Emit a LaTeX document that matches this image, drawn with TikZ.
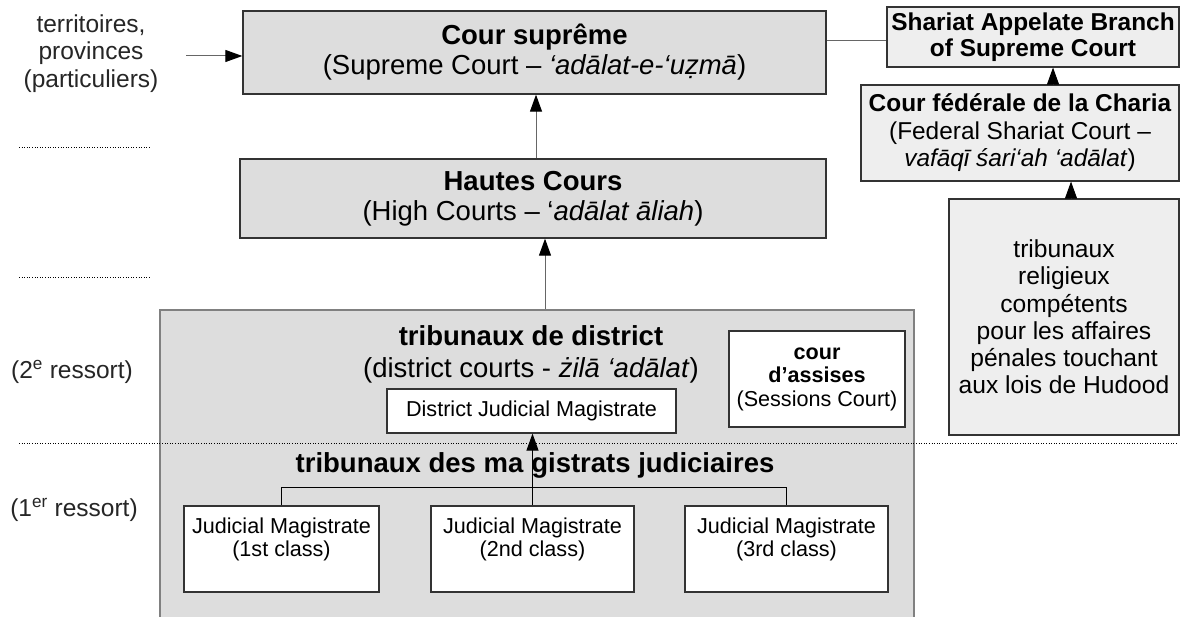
\documentclass[tikz,border=0pt]{standalone}
\usepackage{fontspec}
\setmainfont{Liberation Sans}
\usetikzlibrary{arrows.meta}
\definecolor{boxgray}{HTML}{DDDDDD}
\definecolor{lightbox}{HTML}{EEEEEE}
\definecolor{edge}{HTML}{333333}
\definecolor{lineg}{HTML}{666666}
\definecolor{contedge}{HTML}{808080}
\tikzset{
  big/.style={font=\fontsize{27.5}{30}\selectfont},
  mid/.style={font=\fontsize{24.5}{27.2}\selectfont},
  smalltxt/.style={font=\fontsize{21.6}{23.5}\selectfont},
  courtbox/.style={draw=edge, line width=1.3pt, fill=boxgray, inner sep=0pt, align=center},
  rightbox/.style={draw=edge, line width=1.1pt, fill=lightbox, inner sep=0pt, align=center},
  whitebox/.style={draw=edge, line width=1.2pt, fill=white, inner sep=0pt, align=center},
  container/.style={draw=contedge, line width=1.5pt, fill=boxgray, inner sep=0pt},
  plain/.style={inner sep=0pt, align=center},
  arr/.style={draw=lineg, line width=1pt, -{Triangle[length=17pt,width=12pt,color=black]}},
  conn/.style={draw=lineg, line width=1pt},
  treeline/.style={draw=black, line width=1pt},
  dotline/.style={draw=black, line width=0.8pt, dash pattern=on 1pt off 1.6pt},
}
\begin{document}
\begin{tikzpicture}[x=1pt,y=-1pt]
\clip (0,0) rectangle (1185,617);
\fill[white] (0,0) rectangle (1185,617);

% main column
\node[courtbox, big, minimum width=583pt, minimum height=83pt] (sc) at (534.5,52.5)
  {\textbf{Cour suprême}\\(Supreme Court – \textit{‘adālat-e-‘uẓmā})};
\node[courtbox, big, minimum width=586pt, minimum height=79pt] (hc) at (533,198.5)
  {\textbf{Hautes Cours}\\(High Courts – ‘\textit{adālat āliah})};

% district container
\node[container, minimum width=754pt, minimum height=315pt] (dist) at (537,467.5) {};
\node[plain, font=\fontsize{27.5}{32}\selectfont] (disttitle) at (531,354)
  {\textbf{tribunaux de district}\\(district courts - \textit{żilā ‘adālat})};
\node[whitebox, smalltxt, minimum width=289pt, minimum height=44pt] (djm) at (531.5,411)
  {District Judicial Magistrate};
\node[whitebox, smalltxt, minimum width=176pt, minimum height=96pt] (assises) at (817,379)
  {\textbf{cour}\\\textbf{d’assises}\\(Sessions Court)};
\node[plain, big] (magtitle) at (535,465) {\textbf{tribunaux des ma\kern8pt gistrats judiciaires}};
\node[whitebox, smalltxt, minimum width=195pt, minimum height=86pt] (jm1) at (281.5,549)
  {Judicial Magistrate\\(1st class)\\\mbox{}};
\node[whitebox, smalltxt, minimum width=203pt, minimum height=86pt] (jm2) at (532.5,549)
  {Judicial Magistrate\\(2nd class)\\\mbox{}};
\node[whitebox, smalltxt, minimum width=203pt, minimum height=86pt] (jm3) at (786.5,549)
  {Judicial Magistrate\\(3rd class)\\\mbox{}};

% right column
\node[rightbox, font=\fontsize{24.4}{26}\selectfont, minimum width=292pt, minimum height=60pt] (shariat) at (1033,37)
  {\textbf{Shariat Appelate Branch}\\\textbf{of Supreme Court}};
\node[rightbox, font=\fontsize{24.4}{27.5}\selectfont, minimum width=318pt, minimum height=96pt] (federal) at (1020,133)
  {\textbf{Cour fédérale de la Charia}\\(Federal Shariat Court –\\\textit{vafāqī śari‘ah ‘adālat})};
\node[rightbox, font=\fontsize{24.6}{27.2}\selectfont, minimum width=230pt, minimum height=236pt] (relig) at (1064,317)
  {tribunaux\\religieux\\compétents\\pour les affaires\\pénales touchant\\aux lois de Hudood};

% left labels
\node[plain, mid, text=black!85] (terr) at (91,53.5) {territoires,\\provinces\\(particuliers)};
\node[plain, mid, text=black!85] (res2) at (72,372) {(2\textsuperscript{e} ressort)};
\node[plain, mid, text=black!85] (res1) at (74,510) {(1\textsuperscript{er} ressort)};

% level separators
\draw[dotline] (19,147) -- (151,147);
\draw[dotline] (19,277) -- (151,277);
\draw[dotline] (19,443) -- (1178,443);

% connectors
\coordinate (tstart) at (186,56);
\draw[arr] (tstart) -- (tstart -| sc.west);
\coordinate (ax1) at (536,0);
\draw[arr] (hc.north -| ax1) -- (sc.south -| ax1);
\coordinate (ax2) at (545,0);
\draw[arr] (dist.north -| ax2) -- (hc.south -| ax2);
\coordinate (sl) at (0,41);
\draw[conn] (sc.east |- sl) -- (shariat.west |- sl);
\coordinate (ax3) at (1053,0);
\draw[arr] (federal.north -| ax3) -- (shariat.south -| ax3);
\coordinate (ax4) at (1071,0);
\draw[arr] (relig.north -| ax4) -- (federal.south -| ax4);
\draw[treeline] (jm1.north) -- ++(0,-18) -| (jm3.north);
\draw[arr, draw=black] (jm2.north) -- (jm2.north |- djm.south);
\end{tikzpicture}
\end{document}
